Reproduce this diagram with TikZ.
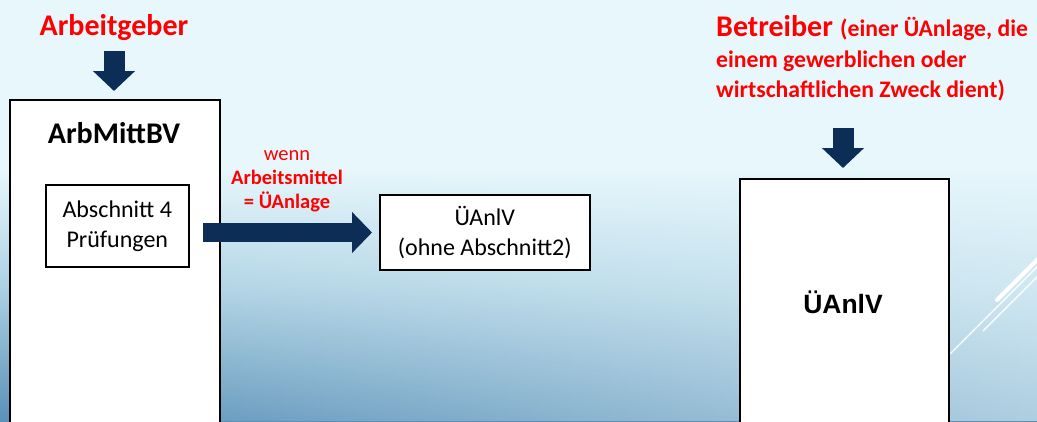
\documentclass[tikz,border=0pt]{standalone}
\usepackage{fontspec}
\setmainfont{Carlito}
\newfontface\arialbold{Liberation Sans Bold}
\usetikzlibrary{arrows.meta,positioning,fadings}
\definecolor{navy}{HTML}{0C2E56}
\definecolor{bgtop}{HTML}{E7F7FC}
\definecolor{bgmid}{HTML}{ADD1E3}
\definecolor{bgbot}{HTML}{5A91B8}
\definecolor{redtxt}{HTML}{FF0000}
\pgfdeclareverticalshading{bgshade}{100bp}{color(0bp)=(bgbot); color(25bp)=(bgbot); color(41bp)=(bgmid); color(55bp)=(bgtop); color(100bp)=(bgtop)}
\tikzset{
  box/.style={draw=black, line width=1.6pt, fill=white, inner sep=0pt},
  bigarrow/.style={navy, line width=19pt, -{Triangle[length=20pt,width=40pt]}},
  downarrow/.style={navy, line width=21pt, -{Triangle[length=20pt,width=41pt]}},
  redbig/.style={text=redtxt, font=\fontsize{30}{36}\selectfont\bfseries, inner sep=0pt, anchor=base},
  redmid/.style={text=redtxt, font=\fontsize{23.7}{30}\selectfont\bfseries, inner sep=0pt, anchor=base west},
  redsmall/.style={text=redtxt, font=\fontsize{20.5}{24}\selectfont, inner sep=0pt, anchor=base},
  redsmallb/.style={text=redtxt, font=\fontsize{20.5}{24}\selectfont\bfseries, inner sep=0pt, anchor=base},
  boxtext/.style={font=\fontsize{24}{30}\selectfont, inner sep=0pt, align=center},
  deco/.style={white, line cap=round}
}
\begin{document}
\begin{tikzpicture}[x=1pt,y=-1pt]
\useasboundingbox (0,0) rectangle (1037,421);
\begin{scope}
\clip (0,0) rectangle (1037,421);
\shade[shading=bgshade] (0,0) rectangle (1037,421);
\fill[bgtop, path fading=west, fill opacity=0.6] (0,0) rectangle (1037,421);
% decorative lines
\draw[deco, line width=4pt] (997,300) -- (1045,252);
\draw[deco, line width=1.3pt] (950,354) -- (1045,259);
\draw[deco, line width=1.3pt] (983,331) -- (1045,269);
% left big box
\node[box, minimum width=210pt, minimum height=340pt, anchor=north west] (arb) at (9,99) {};
% right big box
\node[box, minimum width=209pt, minimum height=260pt, anchor=north west] (uanl) at (739,178) {};
\end{scope}

% titles
\node[redbig] (ag) at (114,35) {Arbeitgeber};
\node[redbig, anchor=base west] (betr) at (716,36) {Betreiber};
\node[redmid] (betr1) at (840,36) {(einer ÜAnlage, die};
\node[redmid] (betr2) at (716,67) {einem gewerblichen oder};
\node[redmid] (betr3) at (716,97) {wirtschaftlichen Zweck dient)};

% down arrows
\coordinate (a1s) at (114,51);
\coordinate (a1e) at (114,91);
\draw[downarrow] (a1s) -- (a1e);
\coordinate (a2s) at (843,128);
\coordinate (a2e) at (843,168);
\draw[downarrow] (a2s) -- (a2e);

% left box contents
\node[font=\fontsize{30}{36}\selectfont\bfseries, inner sep=0pt, anchor=base] (arbt) at (114,143) {ArbMittBV};
\node[box, minimum width=143pt, minimum height=82pt, anchor=north west] (abs) at (45,184) {};
\node[boxtext] (abst) at (abs.center) {Abschnitt 4\\Prüfungen};

% middle box
\node[box, minimum width=210pt, minimum height=75pt, anchor=north west] (uv) at (379,194) {};
\node[boxtext] (uvt) at (uv.center) {ÜAnlV\\(ohne Abschnitt2)};

% condition label
\node[redsmall] (wenn) at (287,160) {wenn};
\node[redsmallb] (am) at (287,184) {Arbeitsmittel};
\node[redsmallb] (eq) at (287,208) {= ÜAnlage};

% main arrow
\coordinate (ms) at (203,232.5);
\coordinate (me) at (372,232.5);
\draw[bigarrow] (ms) -- (me);

% right box text
\node[font=\arialbold\fontsize{26.5}{32}\selectfont, inner sep=0pt] (uanlt) at (843,302) {ÜAnlV};
\end{tikzpicture}
\end{document}
